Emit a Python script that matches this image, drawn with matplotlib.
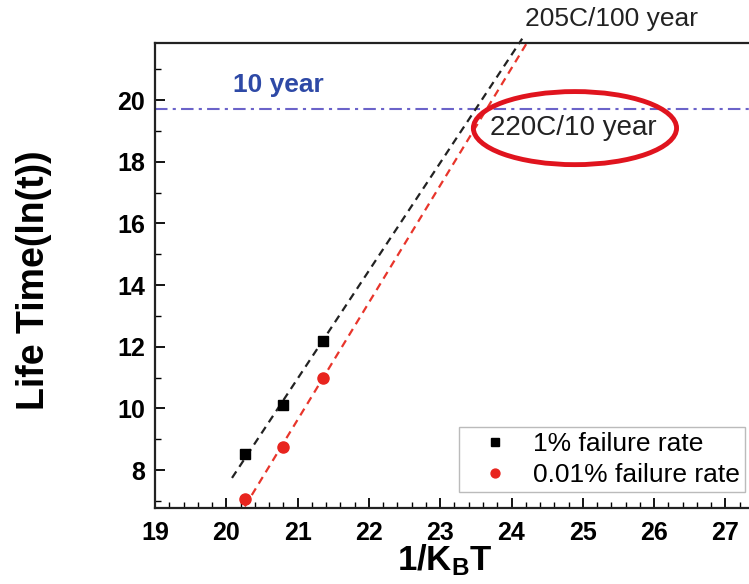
import matplotlib
matplotlib.use("Agg")
import matplotlib.pyplot as plt
from matplotlib.patches import Ellipse
from matplotlib.ticker import MultipleLocator
import numpy as np

plt.rcParams['font.family'] = ['Liberation Sans', 'DejaVu Sans']
plt.rcParams['mathtext.fontset'] = 'custom'
plt.rcParams['mathtext.rm'] = 'Liberation Sans'
plt.rcParams['mathtext.bf'] = 'Liberation Sans:bold'
plt.rcParams['mathtext.it'] = 'Liberation Sans:italic'

# data
x_inv_kt = [20.26, 20.79, 21.35]
life_1pct = [8.51, 10.12, 12.19]
life_001pct = [7.07, 8.74, 11.00]

# fitted extrapolation lines (slope, intercept) and x-range
fit_1pct = (3.5, 12.19 - 3.5 * 21.35)
fit_1pct_range = [20.08, 24.15]
fit_001pct = (3.8, 11.00 - 3.8 * 21.36)
fit_001pct_range = [20.26, 24.22]

ten_year_level = 19.7

xticks = [19, 20, 21, 22, 23, 24, 25, 26, 27]
yticks = [8, 10, 12, 14, 16, 18, 20]

W, H = 749, 584
fig = plt.figure(figsize=(W / 100, H / 100), dpi=100)
ax_left = 155 / W
ax_bottom = 76 / H
ax_height = (508 - 43) / H
x_lo, x_hi = 19.0, 27.6
ax_width = (x_hi - x_lo) * 71.3 / W
ax = fig.add_axes([ax_left, ax_bottom, ax_width, ax_height])
ax.set_xlim(x_lo, x_hi)
ax.set_ylim(6.77, 21.85)
axw_px = ax_width * W
axh_px = 508 - 43

for s in ax.spines.values():
    s.set_linewidth(1.6)
    s.set_color('#222222')

ax.set_xticks(xticks)
ax.set_yticks(yticks)
ax.xaxis.set_minor_locator(MultipleLocator(0.2))
ax.yaxis.set_minor_locator(MultipleLocator(1))
ax.tick_params(which='both', direction='in', top=False, right=False)
ax.tick_params(which='major', length=7, width=1.3, labelsize=18)
ax.tick_params(axis='x', which='major', pad=9)
ax.tick_params(axis='y', which='major', pad=7)
ax.tick_params(which='minor', length=4, width=1.0)
for lab in ax.get_xticklabels() + ax.get_yticklabels():
    lab.set_fontweight('bold')

# fit lines
xb = np.array(fit_1pct_range)
ax.plot(xb, fit_1pct[0] * xb + fit_1pct[1], ls=(0, (3.5, 2.5)), color='#222222', lw=1.6, clip_on=False, zorder=2)
xr = np.array(fit_001pct_range)
ax.plot(xr, fit_001pct[0] * xr + fit_001pct[1], ls=(0, (3.5, 2.5)), color='#e8352b', lw=1.6, clip_on=False, zorder=2)

# 10 year line
ax.axhline(ten_year_level, color='#6b63c9', lw=1.5, ls=(0, (6, 2.5, 1.5, 2.5)), zorder=1)

# data points
ax.plot(x_inv_kt, life_1pct, 's', color='black', ms=7, ls='none', label='1% failure rate', zorder=3)
ax.plot(x_inv_kt, life_001pct, 'o', color='#e8241e', ms=8, ls='none', label='0.01% failure rate', zorder=3)

# annotations
ax.text(20.1, 20.5, '10 year', color='#2e49a6', fontsize=19, fontweight='bold', va='center', ha='left')
ax.text(24.19, 22.62, '205C/100 year', color='#222222', fontsize=19, va='center', ha='left', clip_on=False)
ax.text(23.70, 19.09, '220C/10 year', color='#222222', fontsize=20, va='center', ha='left')
ax.add_patch(Ellipse((24.89, 19.09), 2.85, 2.37, fill=False, edgecolor='#e0141e', lw=3.5, zorder=4))

ax.set_ylabel('Life Time(ln(t))', fontsize=27, fontweight='bold')
ax.set_xlabel(r'$\mathbf{1/K_{B}T}$', fontsize=25)
ax.xaxis.set_label_coords((445 - 155) / axw_px, -(578 - 508) / axh_px)
ax.xaxis.label.set_va('bottom')
ax.yaxis.set_label_coords(-(155 - 52) / axw_px, (508 - 280) / axh_px)

leg = ax.legend(loc='upper right', bbox_to_anchor=((745 - 155) / axw_px, (508 - 427) / axh_px),
                fontsize=19, frameon=True, fancybox=False, edgecolor='#aaaaaa',
                handlelength=2.3, handletextpad=0.3, borderpad=0.2, labelspacing=0.25,
                markerscale=0.8, borderaxespad=0)
leg.get_frame().set_linewidth(1.0)

fig.savefig('out.png', dpi=100)
